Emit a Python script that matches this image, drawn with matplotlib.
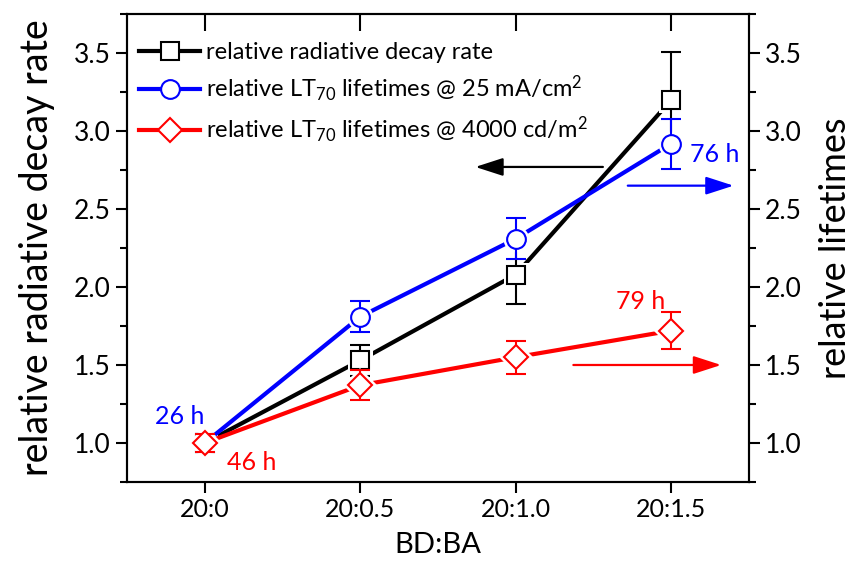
import matplotlib
matplotlib.use("Agg")
import matplotlib.pyplot as plt
from matplotlib.ticker import MultipleLocator, FixedLocator, FormatStrFormatter

plt.rcParams['font.family'] = ['Lato', 'DejaVu Sans']
plt.rcParams['mathtext.fontset'] = 'custom'
plt.rcParams['mathtext.rm'] = 'Lato'
plt.rcParams['mathtext.it'] = 'Lato:italic'

# BD:BA ratios
ratios = ['20:0', '20:0.5', '20:1.0', '20:1.5']

# relative radiative decay rate (left axis)
decay_rate = [1.00, 1.53, 2.08, 3.20]
decay_err = [0.05, 0.10, 0.19, 0.31]

# relative LT70 lifetimes @ 25 mA/cm2 (right axis)
lt_current = [1.00, 1.81, 2.31, 2.92]
lt_current_err = [0.06, 0.10, 0.13, 0.16]

# relative LT70 lifetimes @ 4000 cd/m2 (right axis)
lt_lum = [1.00, 1.37, 1.55, 1.72]
lt_lum_err = [0.06, 0.095, 0.107, 0.12]

# absolute lifetimes written next to the end points
hours_current = ['26 h', '76 h']
hours_lum = ['46 h', '79 h']

x = list(range(len(ratios)))

fig = plt.figure(figsize=(8.64, 5.65), dpi=100)
ax = fig.add_axes([0.147, 0.147, 0.72, 0.828])
ax2 = ax.twinx()

series = [
    (ax, decay_rate, decay_err, 'black', 's', 13, 'relative radiative decay rate'),
    (ax2, lt_current, lt_current_err, 'blue', 'o', 13.5, r'relative LT$_{70}$ lifetimes @ 25 mA/cm$^{2}$'),
    (ax2, lt_lum, lt_lum_err, 'red', 'D', 12.5, r'relative LT$_{70}$ lifetimes @ 4000 cd/m$^{2}$'),
]

handles = []
for i, (a, y, err, c, m, size, lab) in enumerate(series):
    base = 10 * i
    a.plot(x, y, '-', color=c, lw=3.0, zorder=base + 1, solid_capstyle='butt')
    # white halo so the connecting line stops short of the symbol
    a.plot(x, y, m, ms=size + 5, color='white', mec='white', mew=0, zorder=base + 2)
    a.errorbar(x, y, yerr=err, fmt='none', ecolor=c, elinewidth=1.5,
               capsize=7.5, capthick=1.5, zorder=base + 3)
    a.plot(x, y, m, ms=size, mfc='white', mec=c, mew=1.5, zorder=base + 4)
    h, = ax.plot([], [], '-', color=c, lw=3.0, marker=m,
                 ms=size, mfc='white', mec=c, mew=1.5)
    handles.append((h, lab))

ax2.set_zorder(ax.get_zorder() + 1)
ax2.patch.set_visible(False)

for a in (ax, ax2):
    a.set_xlim(-0.5, 3.5)
    a.set_ylim(0.75, 3.75)
    a.yaxis.set_major_locator(FixedLocator([1.0, 1.5, 2.0, 2.5, 3.0, 3.5]))
    a.yaxis.set_minor_locator(MultipleLocator(0.25))
    a.yaxis.set_major_formatter(FormatStrFormatter('%.1f'))
    a.tick_params(which='major', length=8, width=1.5, labelsize=19)
    a.tick_params(which='minor', length=5, width=1.5)
    for s in a.spines.values():
        s.set_linewidth(1.5)

ax.set_xticks(x)
ax.set_xticklabels(ratios)
ax.xaxis.set_minor_locator(FixedLocator([0.5, 1.5, 2.5]))
ax.tick_params(axis='x', which='both', top=False, labelsize=18)

# top axis: inward major ticks only, taken from the twin's hidden x axis
ax2.xaxis.set_visible(True)
ax2.xaxis.set_minor_locator(FixedLocator([]))
ax2.tick_params(axis='x', which='major', bottom=False, top=True, labelbottom=False,
                labeltop=False, direction='in', length=12, width=1.5)

ax.set_xlabel('BD:BA', fontsize=21, labelpad=8)
ax.set_ylabel('relative radiative decay rate', fontsize=27, labelpad=14)
ax2.set_ylabel('relative lifetimes', fontsize=26, labelpad=12)

ax2.legend([h for h, _ in handles], [l for _, l in handles], loc='upper left',
           bbox_to_anchor=(-0.015, 0.985), frameon=False, fontsize=17,
           handlelength=2.6, handletextpad=0.25, labelspacing=0.45)

# arrows pointing to the axis each series belongs to
arrow = dict(arrowstyle='-|>,head_length=17,head_width=5.5', mutation_scale=1,
             lw=1.6, shrinkA=0, shrinkB=0)
ax2.annotate('', xy=(1.74, 2.77), xytext=(2.56, 2.77),
             arrowprops=dict(arrow, color='black'))
ax2.annotate('', xy=(3.40, 2.65), xytext=(2.72, 2.65),
             arrowprops=dict(arrow, color='blue'))
ax2.annotate('', xy=(3.32, 1.50), xytext=(2.37, 1.50),
             arrowprops=dict(arrow, color='red'))

ax2.text(-0.16, 1.17, hours_current[0], color='blue', fontsize=18, ha='center', va='center')
ax2.text(3.28, 2.85, hours_current[1], color='blue', fontsize=18, ha='center', va='center')
ax2.text(0.30, 0.876, hours_lum[0], color='red', fontsize=18, ha='center', va='center')
ax2.text(2.80, 1.906, hours_lum[1], color='red', fontsize=18, ha='center', va='center')

fig.savefig('out.png', dpi=100)
